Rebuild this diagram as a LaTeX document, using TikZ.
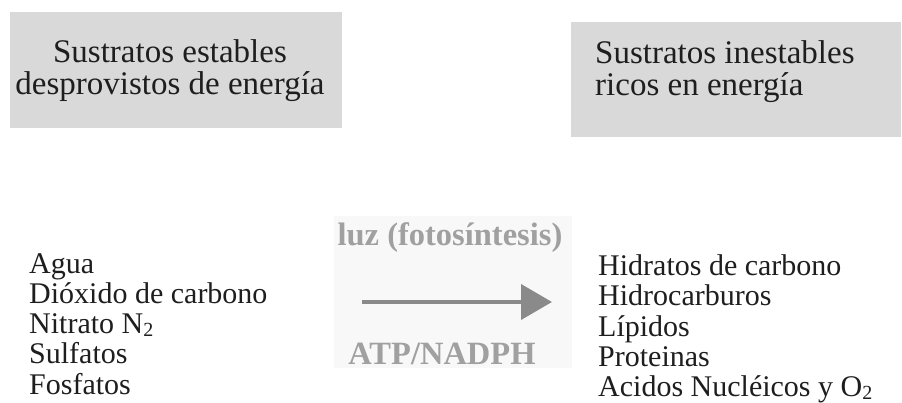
\documentclass[tikz,border=0pt]{standalone}
\usepackage{fontspec}
\setmainfont{Liberation Serif}
\usetikzlibrary{arrows.meta,positioning}
\definecolor{panel}{HTML}{D9D9D9}
\definecolor{ink}{HTML}{1E1E1E}
\definecolor{faint}{HTML}{A0A0A0}
\definecolor{arrowgray}{HTML}{8A8A8A}
\definecolor{haze}{HTML}{F8F8F8}
\newcommand{\chemsub}[1]{\raisebox{-3pt}{\fontsize{20}{20}\selectfont #1}}

\begin{document}
\begin{tikzpicture}[
x=1pt,y=-1pt,
box/.style={fill=panel,draw=none,inner sep=0pt},
head/.style={text=ink,inner sep=0pt,font=\fontsize{33}{32.5}\selectfont},
list/.style={text=ink,inner sep=0pt,align=left,font=\fontsize{30}{30.3}\selectfont},
tag/.style={text=faint,inner sep=0pt,font=\fontsize{32.5}{34}\selectfont\bfseries},
arr/.style={-{Triangle[length=31pt,width=35pt]},line width=4pt,draw=arrowgray}
]
\useasboundingbox (0,0) rectangle (902,403);
\node[box,minimum width=332pt,minimum height=116pt] (stable) at (176,70) {};
\node[box,minimum width=330pt,minimum height=115pt] (rich) at (736,79.5) {};
\node[head,align=center,anchor=north] (stabletitle) at (170,39) {Sustratos estables\\desprovistos de energía};
\node[head,align=left,anchor=north west] (richtitle) at (595,40) {Sustratos inestables\\ricos en energía};
\node[fill=haze,inner sep=0pt,minimum width=238pt,minimum height=152pt] (backdrop) at (453,292) {};
\node[list,anchor=north west] (reactants) at (29,253) {Agua\\Dióxido de carbono\\Nitrato N\chemsub{2}\\Sulfatos\\Fosfatos};
\node[list,anchor=north west] (products) at (598,254.5) {Hidratos de carbono\\Hidrocarburos\\Lípidos\\Proteinas\\Acidos Nucléicos y O\chemsub{2}};
\coordinate (from) at (362,302);
\coordinate (to) at (552,302);
\draw[arr] (from)--(to);
\node[tag,anchor=base] (light) at (450,246) {luz (fotosíntesis)};
\node[tag,anchor=base] (energy) at (442,364) {ATP/NADPH};
\end{tikzpicture}
\end{document}
